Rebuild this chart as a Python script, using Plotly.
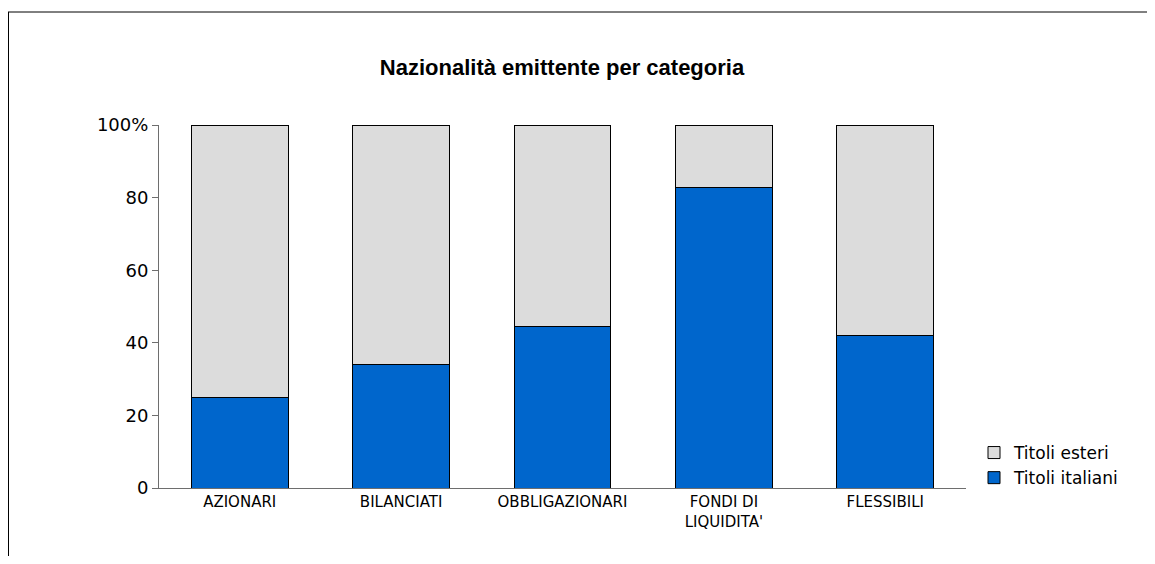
import plotly.graph_objects as go

categories = ["AZIONARI", "BILANCIATI", "OBBLIGAZIONARI", "FONDI DI<br>LIQUIDITA'", "FLESSIBILI"]
titoli_italiani = [24.8, 33.9, 44.6, 82.9, 42.1]
titoli_esteri = [100 - v for v in titoli_italiani]
y_ticks = [0, 20, 40, 60, 80, 100]
y_tick_labels = ["0", "20", "40", "60", "80", "100%"]

fig = go.Figure()
fig.add_trace(go.Bar(
    x=categories, y=titoli_italiani, name="Titoli italiani",
    marker=dict(color="#0066CC", line=dict(color="#000000", width=1)),
))
fig.add_trace(go.Bar(
    x=categories, y=titoli_esteri, name="Titoli esteri",
    marker=dict(color="#DCDCDC", line=dict(color="#000000", width=1)),
))

# page body adds 8px, so figure is sized to fit the window exactly
FW, FH = 1139, 548
# plot area in figure pixels
L, R, T, B = 151, 958, 117, 480
W, H = R - L, B - T

def px(x):
    return (x - L) / W

def py(y):
    return (B - y) / H

fig.update_layout(
    width=FW, height=FH,
    margin=dict(l=L, r=FW - R, t=T, b=FH - B),
    paper_bgcolor="white", plot_bgcolor="white",
    barmode="stack", bargap=0.4,
    font=dict(family="DejaVu Sans", color="#000000"),
    title=dict(text="<b>Nazionalità emittente per categoria</b>",
               x=px(554), xref="paper", y=1 - 59 / FH, yref="container",
               xanchor="center", yanchor="middle",
               font=dict(family="Liberation Sans", size=22)),
    showlegend=True,
    legend=dict(x=px(966), y=py(427), xanchor="left", yanchor="top",
                traceorder="reversed", font=dict(size=17),
                itemwidth=30, tracegroupgap=0),
    xaxis=dict(showline=True, linecolor="#6E6E6E", linewidth=1, ticks="",
               tickfont=dict(size=15), showgrid=False),
    yaxis=dict(range=[0, 100], tickvals=y_ticks, ticktext=y_tick_labels,
               showline=True, linecolor="#6E6E6E", linewidth=1,
               ticks="outside", ticklen=6, tickcolor="#6E6E6E",
               tickfont=dict(size=18), showgrid=False, zeroline=False),
    shapes=[
        dict(type="line", xref="paper", yref="paper",
             x0=px(0.5), x1=px(0.5), y0=py(4), y1=py(FH + 20),
             line=dict(color="#000000", width=1)),
        dict(type="line", xref="paper", yref="paper",
             x0=px(0), x1=px(FW + 20), y0=py(4), y1=py(4),
             line=dict(color="#000000", width=1)),
    ],
)

fig.write_html("out.html")
